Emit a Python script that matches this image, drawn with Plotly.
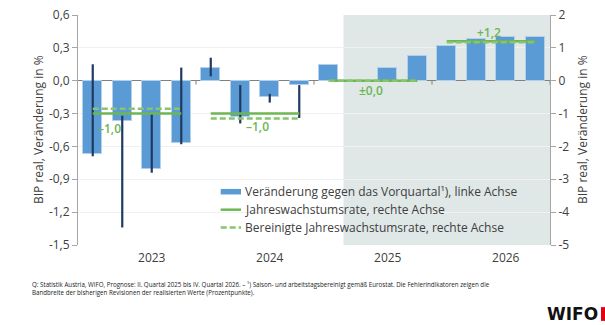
import plotly.graph_objects as go

# Quarterly GDP growth, 2023 Q1 .. 2026 Q4 (left axis, %)
quarters = [f"{y} Q{q}" for y in (2023, 2024, 2025, 2026) for q in (1, 2, 3, 4)]
qoq_growth = [-0.67, -0.37, -0.81, -0.57, 0.12, -0.33, -0.15, -0.04,
              0.14, -0.01, 0.12, 0.23, 0.32, 0.38, 0.40, 0.40]
# Range of past revisions (upper / lower end) for realised quarters
rev_high = [0.15, -0.32, -0.30, 0.12, 0.21, -0.04, -0.12, -0.04]
rev_low = [-0.69, -1.34, -0.84, -0.58, 0.04, -0.39, -0.20, -0.34]

# Annual growth rates (right axis, %)
years = ["2023", "2024", "2025", "2026"]
annual_growth = [-1.0, -1.0, 0.0, 1.2]
annual_growth_adj = [-0.85, -1.15, 0.0, 1.17]

left_ticks = [0.6, 0.3, 0.0, -0.3, -0.6, -0.9, -1.2, -1.5]
left_ticktext = ["0,6", "0,3", "0,0", "-0,3", "-0,6", "-0,9", "-1,2", "-1,5"]
right_ticks = [2, 1, 0, -1, -2, -3, -4, -5]
right_ticktext = ["2", "1", "0", "-1", "-2", "-3", "-4", "-5"]

BAR = "#5b9bd5"
ERR = "#1f3a60"
GREEN = "#6db652"
GREEN_D = "#86c46f"
TXT = "#404040"
FONT = "Open Sans"

x_idx = list(range(len(quarters)))
n_real = len(rev_high)
err_plus = [rev_high[i] - qoq_growth[i] for i in range(n_real)] + [0] * (len(quarters) - n_real)
err_minus = [qoq_growth[i] - rev_low[i] for i in range(n_real)] + [0] * (len(quarters) - n_real)

fig = go.Figure()

fig.add_trace(go.Bar(
    x=x_idx, y=qoq_growth, width=0.65,
    marker=dict(color=BAR, line=dict(color="#b3d0ea", width=1)),
    error_y=dict(type="data", symmetric=False, array=err_plus, arrayminus=err_minus,
                 color=ERR, thickness=2.2, width=0),
    showlegend=False, hovertext=quarters,
))

def fmt(v):
    s = f"{abs(v):.1f}".replace(".", ",")
    if round(v, 1) == 0:
        return "±" + s
    return ("+" if v > 0 else "–") + s

for k, yr in enumerate(years):
    xs = [4 * k, 4 * k + 3]
    fig.add_trace(go.Scatter(x=xs, y=[annual_growth[k]] * 2, yaxis="y2", mode="lines",
                             line=dict(color=GREEN, width=2.5), showlegend=False))
    fig.add_trace(go.Scatter(x=xs, y=[annual_growth_adj[k]] * 2, yaxis="y2", mode="lines",
                             line=dict(color=GREEN_D, width=2.5, dash="6px,3px"), showlegend=False))

# value labels of the annual rates
label_pos = [(0.58, -1.44), (5.57, -1.38), (9.43, -0.31), (13.43, 1.46)]
annotations = []
for k, (lx, ly) in enumerate(label_pos):
    annotations.append(dict(x=lx, y=ly, xref="x", yref="y2", text=fmt(annual_growth[k]),
                            showarrow=False, font=dict(family=FONT, size=12, color=GREEN, weight=600)))

shapes = [
    # forecast period
    dict(type="rect", xref="x", yref="paper", x0=8.5, x1=15.5, y0=0, y1=1,
         fillcolor="#dfe7e7", line=dict(width=0), layer="below"),
]
# year separators on the zero line
for xb in (3.5, 7.5, 11.5, 15.5):
    shapes.append(dict(type="line", xref="x", yref="y", x0=xb, x1=xb, y0=0, y1=-0.035,
                       line=dict(color="#808080", width=1)))

# legend
leg_x0, leg_x1, leg_tx = 0.3023, 0.3453, 0.3496
leg_y = [0.2317, 0.1535, 0.0761]
leg_text = ["Veränderung gegen das Vorquartal¹), linke Achse",
            "Jahreswachstumsrate, rechte Achse",
            "Bereinigte Jahreswachstumsrate, rechte Achse"]
shapes.append(dict(type="rect", xref="paper", yref="paper", x0=leg_x0, x1=leg_x1,
                   y0=leg_y[0] - 0.012, y1=leg_y[0] + 0.012, fillcolor=BAR, line=dict(width=0)))
shapes.append(dict(type="line", xref="paper", yref="paper", x0=leg_x0, x1=leg_x1,
                   y0=leg_y[1], y1=leg_y[1], line=dict(color=GREEN, width=2.5)))
shapes.append(dict(type="line", xref="paper", yref="paper", x0=leg_x0, x1=leg_x1,
                   y0=leg_y[2], y1=leg_y[2], line=dict(color=GREEN_D, width=2.5, dash="6px,3px")))
for t, yy in zip(leg_text, leg_y):
    annotations.append(dict(x=leg_tx, y=yy, xref="paper", yref="paper", text=t, showarrow=False,
                            xanchor="left", yanchor="middle", font=dict(family=FONT, size=12, color=TXT)))

# axis titles
for xp in (-0.0847, 1.0678):
    annotations.append(dict(x=xp, y=0.5, xref="paper", yref="paper", text="BIP real, Veränderung in %",
                            xanchor="center", yanchor="middle",
                            textangle=-90, showarrow=False, font=dict(family=FONT, size=12, color=TXT)))

# source note
annotations.append(dict(x=-0.1017, y=-0.172, xref="paper", yref="paper", xanchor="left", yanchor="middle",
                        showarrow=False, font=dict(family=FONT, size=6.2, color="#222222"),
                        text="Q: Statistik Austria, WIFO, Prognose: II. Quartal 2025 bis IV. Quartal 2026. – ¹) "
                             "Saison- und arbeitstagsbereinigt gemäß Eurostat. Die Fehlerindikatoren zeigen die"))
annotations.append(dict(x=-0.1017, y=-0.208, xref="paper", yref="paper", xanchor="left", yanchor="middle",
                        showarrow=False, font=dict(family=FONT, size=6.2, color="#222222"),
                        text="Bandbreite der bisherigen Revisionen der realisierten Werte (Prozentpunkte)."))
# logo
annotations.append(dict(x=1.1038, y=-0.298, xref="paper", yref="paper", xanchor="right", yanchor="middle",
                        showarrow=False, text="<b>WIFO</b>", borderpad=0,
                        font=dict(family="DejaVu Sans", size=17, color="#111111")))
shapes.append(dict(type="rect", xref="paper", yref="paper", x0=1.108, x1=1.12, y0=-0.33, y1=-0.27,
                   fillcolor="#e2001a", line=dict(width=0)))

fig.update_layout(
    width=605, height=325,
    margin=dict(l=78, r=55, t=15, b=80, autoexpand=False),
    paper_bgcolor="white", plot_bgcolor="white",
    font=dict(family=FONT, size=12, color=TXT),
    showlegend=False,
    bargap=0,
    xaxis=dict(range=[-0.5, 15.5], tickvals=[2, 6, 10, 14], ticktext=years,
               showgrid=False, zeroline=False, showline=False, ticks="",
               ticklabelstandoff=4, automargin=False,
               tickfont=dict(size=12, color=TXT)),
    yaxis=dict(range=[-1.5, 0.6], tickvals=left_ticks, ticktext=left_ticktext,
               showgrid=True, gridcolor="#f0f0f0", gridwidth=1,
               zeroline=True, zerolinecolor="#808080", zerolinewidth=1,
               showline=True, linecolor="#a6a6a6", linewidth=1,
               ticks="outside", ticklen=5, tickcolor="#a6a6a6", automargin=False,
               tickfont=dict(size=12, color=TXT)),
    yaxis2=dict(range=[-5, 2], overlaying="y", side="right", tickvals=right_ticks, ticktext=right_ticktext,
                showgrid=False, zeroline=False, showline=True, linecolor="#a6a6a6", linewidth=1,
                ticks="outside", ticklen=5, tickcolor="#a6a6a6", automargin=False,
                tickfont=dict(size=12, color=TXT)),
    shapes=shapes, annotations=annotations,
)

fig.write_html("out.html")
